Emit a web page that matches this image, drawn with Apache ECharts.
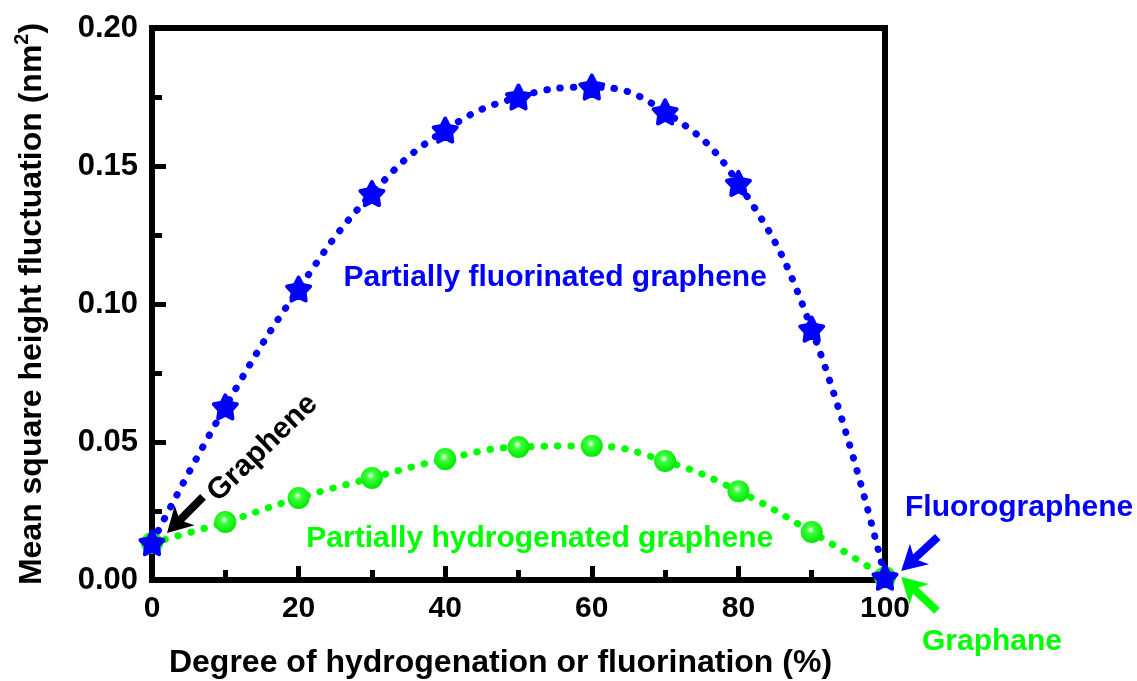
<!DOCTYPE html>
<html>
<head>
<meta charset="utf-8">
<script src="https://cdn.jsdelivr.net/npm/echarts@6/dist/echarts.min.js"></script>
<style>
html,body{margin:0;padding:0;background:#fff;}
#chart{width:1137px;height:681px;}
</style>
</head>
<body>
<div id="chart"></div>
<script>
// ---- data ----
const degree = [0, 10, 20, 30, 40, 50, 60, 70, 80, 90, 100];
const fluorinated = [0.0135, 0.0627, 0.1054, 0.140, 0.163, 0.175, 0.1786, 0.1696, 0.1437, 0.0909, 0.001];
const hydrogenated = [0.0134, 0.021, 0.0297, 0.037, 0.0438, 0.0482, 0.0486, 0.0431, 0.0322, 0.0174, 0.001];
const xTicks = [0, 20, 40, 60, 80, 100];
const yTicks = [0.00, 0.05, 0.10, 0.15, 0.20];
const xTitle = 'Degree of hydrogenation or fluorination (%)';
const yTitle = 'Mean square height fluctuation (nm';
const seriesNames = ['Partially hydrogenated graphene', 'Partially fluorinated graphene'];

// annotations (data coordinates)
const annotationTexts = [
  {text: 'Partially fluorinated graphene', at: [55.0, 0.1095], color: '#0000ff', rot: 0},
  {text: 'Partially hydrogenated graphene', at: [52.9, 0.0150], color: '#00ff00', rot: 0},
  {text: 'Graphene', at: [15.1, 0.0478], color: '#000000', rot: 44},
  {text: 'Fluorographene', at: [118.3, 0.0262], color: '#0000ff', rot: 0},
  {text: 'Graphane', at: [114.6, -0.0225], color: '#00ff00', rot: 0}
];
const arrows = [
  {from: [6.96, 0.0301], to: [2.05, 0.0170], color: '#000000'},
  {from: [107.2, 0.0156], to: [102.2, 0.0033], color: '#0000ff'},
  {from: [107.1, -0.0112], to: [102.2, 0.0011], color: '#00ff00'}
];

const FONT = '"Liberation Sans", Arial, sans-serif';

function starPath() {
  const pts = [];
  for (let i = 0; i < 10; i++) {
    const r = i % 2 === 0 ? 50 : 26;
    const a = -Math.PI / 2 + i * Math.PI / 5;
    pts.push((50 + r * Math.cos(a)).toFixed(2) + ',' + (50 + r * Math.sin(a)).toFixed(2));
  }
  return 'path://M' + pts.join('L') + 'Z';
}

const chart = echarts.init(document.getElementById('chart'), null, {renderer: 'canvas'});

const option = {
  animation: false,
  backgroundColor: '#ffffff',
  grid: {left: 152, right: 252, top: 28, bottom: 101, outerBoundsMode: 'none', containLabel: false,
    show: true, borderColor: '#000', borderWidth: 6, backgroundColor: 'transparent'},
  xAxis: {
    type: 'value', min: 0, max: 100, interval: 20,
    axisLine: {lineStyle: {color: '#000', width: 6}},
    axisTick: {inside: true, length: 14, lineStyle: {color: '#000', width: 5}},
    minorTick: {show: true, splitNumber: 2, length: 10, lineStyle: {color: '#000', width: 5}},
    splitLine: {show: false},
    axisLabel: {margin: 14, color: '#000', fontFamily: FONT, fontWeight: 'bold', fontSize: 30,
      formatter: v => xTicks.includes(v) ? String(v) : ''},
    name: xTitle, nameLocation: 'middle', nameGap: 67,
    nameTextStyle: {color: '#000', fontFamily: FONT, fontWeight: 'bold', fontSize: 32, padding: [0, 36, 0, 0]}
  },
  yAxis: {
    type: 'value', min: 0, max: 0.2, interval: 0.05,
    axisLine: {lineStyle: {color: '#000', width: 6}},
    axisTick: {inside: true, length: 14, lineStyle: {color: '#000', width: 5}},
    minorTick: {show: true, splitNumber: 2, length: 10, lineStyle: {color: '#000', width: 5}},
    splitLine: {show: false},
    axisLabel: {margin: 14, color: '#000', fontFamily: FONT, fontWeight: 'bold', fontSize: 31,
      formatter: v => v.toFixed(2)},
    name: '{a|' + yTitle + '}{s|2}{a|)}', nameLocation: 'middle', nameGap: 104, nameRotate: 90,
    nameTextStyle: {
      color: '#000', fontFamily: FONT, fontWeight: 'bold', fontSize: 32,
      rich: {
        a: {color: '#000', fontFamily: FONT, fontWeight: 'bold', fontSize: 32, lineHeight: 38, verticalAlign: 'bottom'},
        s: {color: '#000', fontFamily: FONT, fontWeight: 'bold', fontSize: 20, lineHeight: 38, verticalAlign: 'top', padding: [2, 0, 0, 0]}
      }
    }
  },
  series: [
    {
      name: seriesNames[0], type: 'line', smooth: 0.45,
      data: degree.map((d, i) => [d, hydrogenated[i]]),
      symbol: 'circle', symbolSize: 22,
      itemStyle: {color: {type: 'radial', x: 0.45, y: 0.4, r: 0.6, colorStops: [
        {offset: 0, color: '#f0fff0'}, {offset: 0.3, color: '#3cff3c'}, {offset: 1, color: '#00e600'}]}},
      lineStyle: {color: '#00ff00', width: 7, type: [0.5, 13], cap: 'round'},
      z: 2
    },
    {
      name: seriesNames[1], type: 'line', smooth: 0.45,
      data: degree.map((d, i) => [d, fluorinated[i]]),
      symbol: starPath(), symbolSize: 23,
      itemStyle: {color: '#0000ff', borderColor: '#0000ff', borderWidth: 4, borderJoin: 'round'},
      lineStyle: {color: '#0000ff', width: 7, type: [0.5, 13], cap: 'round'},
      z: 3
    }
  ]
};
chart.setOption(option);

function buildGraphics() {
  const els = [];
  annotationTexts.forEach(a => {
    const p = chart.convertToPixel({gridIndex: 0}, a.at);
    els.push({
      type: 'text', x: p[0], y: p[1], rotation: a.rot * Math.PI / 180, z: 10,
      style: {text: a.text, fill: a.color, font: 'bold 30px ' + FONT, textAlign: 'center', textVerticalAlign: 'middle'}
    });
  });
  arrows.forEach(ar => {
    const f = chart.convertToPixel({gridIndex: 0}, ar.from);
    const t = chart.convertToPixel({gridIndex: 0}, ar.to);
    const dx = t[0] - f[0], dy = t[1] - f[1];
    const L = Math.hypot(dx, dy);
    const ux = dx / L, uy = dy / L, nx = -uy, ny = ux;
    const headLen = 25, halfW = 14, notch = 7;
    const base = [t[0] - ux * headLen, t[1] - uy * headLen];
    const mid = [t[0] - ux * (headLen - notch), t[1] - uy * (headLen - notch)];
    els.push({type: 'line', z: 10, shape: {x1: f[0], y1: f[1], x2: mid[0], y2: mid[1]},
      style: {stroke: ar.color, lineWidth: 8}});
    els.push({type: 'polygon', z: 10, shape: {points: [
      t, [base[0] + nx * halfW, base[1] + ny * halfW], mid, [base[0] - nx * halfW, base[1] - ny * halfW]]},
      style: {fill: ar.color}});
  });
  chart.setOption({graphic: {elements: els}});
}
buildGraphics();
</script>
</body>
</html>
